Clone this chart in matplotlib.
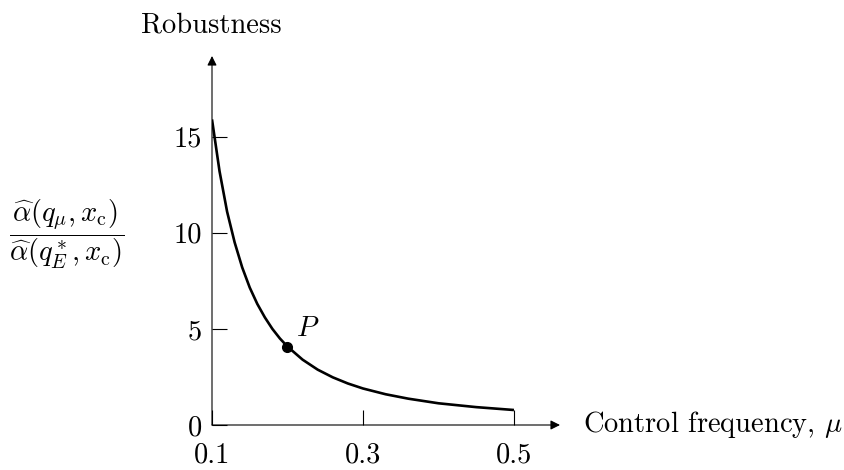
import matplotlib
matplotlib.use("Agg")
import matplotlib.pyplot as plt

# Data
mu = [0.10, 0.11, 0.12, 0.13, 0.14, 0.15, 0.16, 0.17, 0.18, 0.19, 0.20,
      0.22, 0.24, 0.26, 0.28, 0.30, 0.33, 0.36, 0.40, 0.45, 0.50]
robustness = [15.9, 13.2, 11.1, 9.5, 8.2, 7.15, 6.3, 5.6, 5.0, 4.5, 4.08,
              3.40, 2.88, 2.48, 2.16, 1.90, 1.60, 1.37, 1.13, 0.93, 0.78]
point_P = (0.20, 4.08)
xticks = [0.1, 0.3, 0.5]
xtick_labels = ["0.1", "0.3", "0.5"]
yticks = [0, 5, 10, 15]
ytick_labels = ["0", "5", "10", "15"]

plt.rcParams['mathtext.fontset'] = 'cm'
plt.rcParams['font.family'] = ['cmr10', 'DejaVu Serif']
plt.rcParams['axes.formatter.use_mathtext'] = True

FS = 20.5
fig = plt.figure(figsize=(8.45, 4.7), dpi=100)
ax = fig.add_axes([212/845, 1-425/470, (560-212)/845, 369/470])
ax.set_xlim(0.1, 0.561)
ax.set_ylim(0, 19.2)

for s in ['top', 'right', 'left', 'bottom']:
    ax.spines[s].set_visible(False)

# axes with arrows
ax.annotate('', xy=(1, 0), xytext=(0, 0), xycoords='axes fraction',
            arrowprops=dict(arrowstyle='-|>', color='black', lw=0.8,
                            mutation_scale=14, shrinkA=0, shrinkB=0))
ax.annotate('', xy=(0, 1), xytext=(0, 0), xycoords='axes fraction',
            arrowprops=dict(arrowstyle='-|>', color='black', lw=0.8,
                            mutation_scale=14, shrinkA=0, shrinkB=0))

ax.plot(mu, robustness, color='black', lw=1.9, solid_capstyle='butt')
ax.plot([point_P[0]], [point_P[1]], 'o', color='black', markersize=7)
ax.annotate('$P$', xy=point_P, xytext=(6, 3), textcoords='offset points',
            ha='left', va='bottom', fontsize=FS)

ax.set_xticks(xticks)
ax.set_xticklabels(xtick_labels)
ax.set_yticks(yticks)
ax.set_yticklabels(ytick_labels)
ax.tick_params(axis='both', direction='in', length=10.8, width=0.8,
               labelsize=FS, color='black')
ax.tick_params(axis='x', pad=12.5)
ax.tick_params(axis='y', pad=7)

fig.text(211.5/845, 1-25/470, 'Robustness', ha='center', va='center', fontsize=FS)
fig.text(583/845, 1-425/470, r'Control frequency, $\mu$', ha='left', va='center',
         fontsize=FS)
fig.text(67/845, 1-234/470,
         r'$\dfrac{\widehat{\alpha}(q_\mu, x_{\mathrm{c}})}{\widehat{\alpha}(q^*_E, x_{\mathrm{c}})}$',
         ha='center', va='center', fontsize=FS)

fig.savefig('out.png', dpi=100)
